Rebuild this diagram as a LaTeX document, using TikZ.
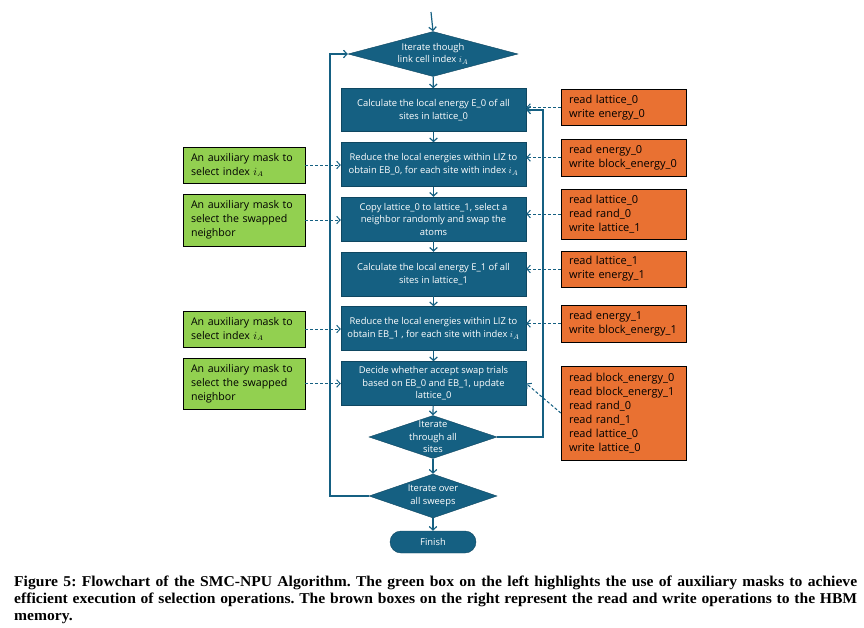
\documentclass[tikz,border=0pt]{standalone}
\usepackage{fontspec}
\setsansfont{Open Sans}
\newfontfamily\capfont[FakeStretch=1.04]{Liberation Serif}
\usetikzlibrary{shapes.geometric, arrows.meta}

\definecolor{npublue}{HTML}{156082}
\definecolor{npuedge}{HTML}{0F4761}
\definecolor{maskgreen}{HTML}{92D050}
\definecolor{hbmorange}{HTML}{E97132}

\begin{document}
\begin{tikzpicture}[x=1pt, y=-1pt, >={Straight Barb[length=3.5pt,width=7.5pt]},
  proc/.style={draw=npuedge, fill=npublue, text=white, font=\sffamily\fontsize{9.4}{12.5}\selectfont, align=center, minimum width=185pt, minimum height=44pt, inner sep=2pt},
  decision/.style={diamond, draw=npuedge, fill=npublue, inner sep=0pt},
  dtext/.style={text=white, font=\sffamily\fontsize{9.4}{12.5}\selectfont, align=center},
  mask/.style={draw=black, fill=maskgreen, font=\sffamily\fontsize{10.6}{14}\selectfont, align=left, text width=106pt, inner xsep=8pt, inner ysep=0pt},
  hbm/.style={draw=black, fill=hbmorange, font=\sffamily\fontsize{11}{14}\selectfont, align=left, text width=109pt, inner xsep=8pt, inner ysep=0pt},
  flow/.style={->, draw=npublue, line width=1.2pt},
  feed/.style={->, draw=npublue, line width=1pt, dash pattern=on 3pt off 2pt}]

\useasboundingbox (0,0) rectangle (864,627);

% main loop: link cells
\coordinate (entry) at (431,12);
\node[decision, minimum width=170pt, minimum height=45pt, label={[dtext]center:{Iterate though\\link cell index $i_A$}}] (linkcell) at (433,54) {};

\node[proc, minimum height=43pt] (calcE0) at (433.5,110) {Calculate the local energy E\_0 of all\\sites in lattice\_0};
\node[proc] (reduceEB0) at (433.5,164.5) {Reduce the local energies within LIZ to\\obtain EB\_0, for each site with index $i_A$};
\node[proc] (swap) at (433.5,219) {Copy lattice\_0 to lattice\_1, select a\\neighbor randomly and swap the\\atoms};
\node[proc] (calcE1) at (433.5,274) {Calculate the local energy E\_1 of all\\sites in lattice\_1};
\node[proc] (reduceEB1) at (433.5,328.5) {Reduce the local energies within LIZ to\\obtain EB\_1 , for each site with index $i_A$};
\node[proc] (decide) at (433.5,383.5) {Decide whether accept swap trials\\based on EB\_0 and EB\_1, update\\lattice\_0};

% inner and outer iterations
\node[decision, minimum width=128pt, minimum height=43pt, label={[dtext]center:{Iterate\\through all\\sites}}] (sites) at (433,437) {};
\node[decision, minimum width=128pt, minimum height=44pt, label={[dtext]center:{Iterate over\\all sweeps}}] (sweeps) at (433,496) {};
\node[proc, rounded corners=11pt, minimum width=86pt, minimum height=22pt] (finish) at (433,542) {Finish};

\draw[flow] (entry) -- (linkcell.north);
\draw[flow] (linkcell) -- (calcE0);
\draw[flow] (calcE0) -- (reduceEB0);
\draw[flow] (reduceEB0) -- (swap);
\draw[flow] (swap) -- (calcE1);
\draw[flow] (calcE1) -- (reduceEB1);
\draw[flow] (reduceEB1) -- (decide);
\draw[flow] (decide) -- (sites.north);
\draw[flow] (sites.south) -- (sweeps.north);
\draw[flow] (sweeps.south) -- (finish);

% loop back lines
\coordinate (loopL) at (330,0);
\coordinate (loopR) at (543,0);
\draw[flow] (sweeps.west) -- (loopL |- sweeps.west) -- (loopL |- linkcell.west) -- (linkcell.west);
\draw[flow] (sites.east) -- (loopR |- sites.east) -- (loopR |- calcE0.east) -- (calcE0.east);

% auxiliary masks (left)
\node[mask, minimum height=36pt] (maskA) at (244,165) {An auxiliary mask to\\select index $i_A$};
\node[mask, minimum height=52pt] (maskB) at (244,220) {An auxiliary mask to\\select the swapped\\neighbor};
\node[mask, minimum height=36pt] (maskC) at (244,329) {An auxiliary mask to\\select index $i_A$};
\node[mask, minimum height=51pt] (maskD) at (244,383.5) {An auxiliary mask to\\select the swapped\\neighbor};

\draw[feed] (maskA.east) -- (maskA.east -| reduceEB0.west);
\draw[feed] (maskB.east) -- (maskB.east -| swap.west);
\draw[feed] (maskC.east) -- (maskC.east -| reduceEB1.west);
\draw[feed] (maskD.east) -- (maskD.east -| decide.west);

% HBM read / write (right)
\node[hbm, minimum height=36pt] (hbmA) at (623.5,107.5) {read lattice\_0\\write energy\_0};
\node[hbm, minimum height=37pt] (hbmB) at (623.5,157.5) {read energy\_0\\write block\_energy\_0};
\node[hbm, minimum height=50pt] (hbmC) at (623.5,214) {read lattice\_0\\read rand\_0\\write lattice\_1};
\node[hbm, minimum height=36pt] (hbmD) at (623.5,269) {read lattice\_1\\write energy\_1};
\node[hbm, minimum height=37pt] (hbmE) at (623.5,323.5) {read energy\_1\\write block\_energy\_1};
\node[hbm, minimum height=94pt] (hbmF) at (623.5,413) {read block\_energy\_0\\read block\_energy\_1\\read rand\_0\\read rand\_1\\read lattice\_0\\write lattice\_0};

\draw[feed] (hbmA.west) -- (hbmA.west -| calcE0.east);
\draw[feed] (hbmB.west) -- (hbmB.west -| reduceEB0.east);
\draw[feed] (hbmC.west) -- (hbmC.west -| swap.east);
\draw[feed] (hbmD.west) -- (hbmD.west -| calcE1.east);
\draw[feed] (hbmE.west) -- (hbmE.west -| reduceEB1.east);
\draw[feed] (hbmF.west) -- (decide.east);

% caption
\node[anchor=north west, inner sep=0pt, text width=843pt, align=justify, font=\capfont\bfseries\fontsize{15}{17}\selectfont] (caption) at (14,576) {\frenchspacing Figure 5: Flowchart of the SMC-NPU Algorithm. The green box on the left highlights the use of auxiliary masks to achieve\linebreak efficient execution of selection operations. The brown boxes on the right represent the read and write operations to the HBM\linebreak memory.};

\end{tikzpicture}
\end{document}
